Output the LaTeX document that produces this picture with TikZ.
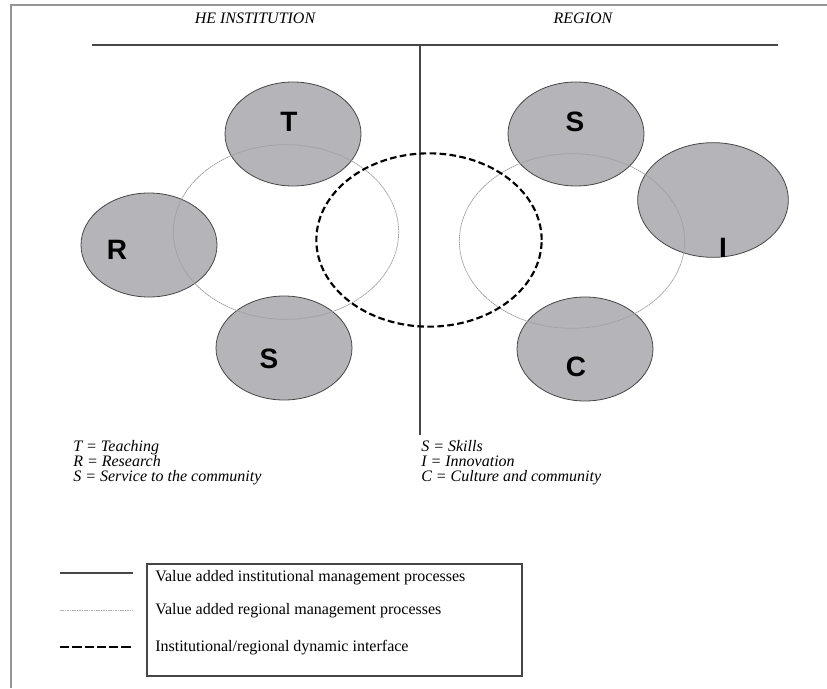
\documentclass[tikz,border=0pt]{standalone}
\usepackage{fontspec}
\setmainfont{Liberation Serif}
\newfontfamily\letterfont{Liberation Sans}
\usepackage{tikz}
\usetikzlibrary{shapes.geometric,positioning,calc}
\definecolor{areagray}{RGB}{180,180,185}
\definecolor{edgegray}{RGB}{70,70,70}
\definecolor{framegray}{RGB}{150,150,150}

\begin{document}
\begin{tikzpicture}
  [x=0.75pt,y=-0.75pt,
   areaN/.style={ellipse,draw=edgegray,fill=areagray,line width=0.6pt,inner sep=0pt,
                 minimum width=102pt,minimum height=78pt},
   linkN/.style={ellipse,draw=gray!75,line width=0.55pt,dash pattern=on 1.2pt off 0.4pt,
                 inner sep=0pt,minimum width=169pt,minimum height=131pt},
   ifaceN/.style={ellipse,draw=black,line width=1.6pt,dash pattern=on 5pt off 2.5pt,
                  inner sep=0pt,minimum width=169pt,minimum height=130pt},
   letterN/.style={font=\letterfont\bfseries\fontsize{21}{21}\selectfont,inner sep=0pt},
   headN/.style={font=\itshape\fontsize{12}{13}\selectfont,inner sep=0pt},
   keyN/.style={font=\itshape\fontsize{12}{12}\selectfont,inner sep=0pt,anchor=base west},
   legN/.style={font=\fontsize{12}{12}\selectfont,inner sep=0pt,anchor=west},
  ]

 \useasboundingbox (0,0) rectangle (827,688);
 \draw[framegray,line width=2.2pt] (11,688) -- (11,5) -- (827,5);

 \node[headN] (hei) at (255,18) {HE INSTITUTION};
 \node[headN] (reg) at (583,18) {REGION};
 \coordinate (topL) at (92,45);
 \coordinate (topR) at (778,45);
 \coordinate (mid) at (420,45);
 \coordinate (midB) at (420,435);
 \draw[edgegray,line width=1.1pt] (topL) -- (topR);
 \draw[edgegray,line width=0.8pt] (mid) -- (midB);

 % institution side
 \node[areaN] (t) at (293,134) {};
 \node[areaN] (r) at (149,245) {};
 \node[areaN] (s) at (284,348) {};
 \node[linkN] (inst) at (286,232) {};

 % region side
 \node[areaN] (sk) at (576,134) {};
 \node[areaN,minimum width=113pt,minimum height=86pt] (inn) at (713,200) {};
 \node[areaN] (cul) at (585,349) {};
 \node[linkN] (regn) at (572,241) {};

 \node[ifaceN] (iface) at (429,240) {};

 \node[letterN] (tl) at (289,122) {T};
 \node[letterN] (rl) at (117,250) {R};
 \node[letterN] (sl) at (269,359) {S};
 \node[letterN] (skl) at (575,122) {S};
 \node[letterN] (il) at (723,248) {I};
 \node[letterN] (cl) at (576,367) {C};

 \node[keyN] (kt) at (73,451) {T = Teaching};
 \node[keyN] (kr) at (73,466) {R = Research};
 \node[keyN] (ks) at (73,481) {S = Service to the community};
 \node[keyN] (ksk) at (421,451) {S = Skills};
 \node[keyN] (ki) at (421,466) {I = Innovation};
 \node[keyN] (kc) at (421,481) {C = Culture and community};

 % legend
 \node[draw=edgegray,line width=0.8pt,minimum width=281.25pt,minimum height=84pt,inner sep=0pt]
   (leg) at (334.5,620) {};
 \draw[edgegray,line width=1.6pt] (60,573) -- (133,573);
 \draw[gray!60,line width=0.5pt,dash pattern=on 1.2pt off 0.6pt] (60,610) -- (133,610);
 \draw[black,line width=1.8pt,dash pattern=on 7pt off 2.2pt] (60,647) -- (133,647);
 \node[legN] (l1) at (155,578) {Value added institutional management processes};
 \node[legN] (l2) at (155,611) {Value added regional management processes};
 \node[legN] (l3) at (155,648) {Institutional/regional dynamic interface};

\end{tikzpicture}
\end{document}
